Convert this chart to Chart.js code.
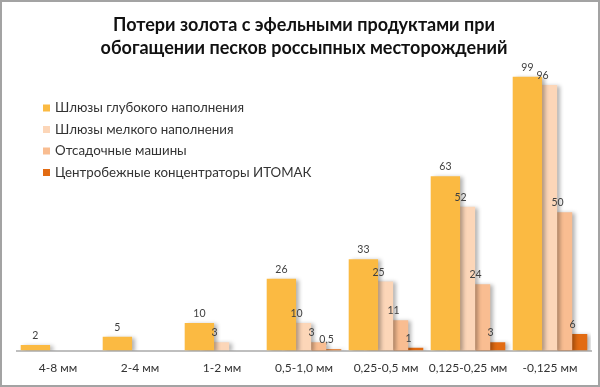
<!DOCTYPE html>
<html>
<head>
<meta charset="utf-8">
<script src="https://cdn.jsdelivr.net/npm/chart.js@4"></script>
<style>
  body { margin: 0; background: #fff; }
  .frame { width: 600px; height: 387px; box-sizing: border-box; border: 2px solid #a3a3a3; background: #fff; }
  .box { position: relative; width: 596px; height: 383px; }
</style>
</head>
<body>
<div class="frame"><div class="box"><canvas id="chart"></canvas></div></div>
<script>
// size classes along the x axis
const categories = ['4-8 мм', '2-4 мм', '1-2 мм', '0,5-1,0 мм', '0,25-0,5 мм', '0,125-0,25 мм', '-0,125 мм'];
const seriesNames = ['Шлюзы глубокого наполнения', 'Шлюзы мелкого наполнения', 'Отсадочные машины', 'Центробежные концентраторы ИТОМАК'];
const deepSluices = [2, 5, 10, 26, 33, 63, 99];
const shallowSluices = [null, null, 3, 10, 25, 52, 96];
const jigs = [null, null, null, 3, 11, 24, 50];
const itomak = [null, null, null, 0.5, 1, 3, 6];
const colors = ['#fbba42', '#fcd6b8', '#f9bd91', '#e26b12'];

const font = 'Lato, "Noto Sans", sans-serif';

// drop shadow behind every bar
const shadowPlugin = {
    id: 'barShadow',
    beforeDatasetDraw(chart) {
        const ctx = chart.ctx;
        ctx.save();
        ctx.shadowColor = 'rgba(0,0,0,0.3)';
        ctx.shadowBlur = 4;
        ctx.shadowOffsetX = 3;
        ctx.shadowOffsetY = 1;
    },
    afterDatasetDraw(chart) {
        chart.ctx.restore();
    }
};

// value labels over the bars
const valuePlugin = {
    id: 'values',
    afterDatasetsDraw(chart) {
        const ctx = chart.ctx;
        ctx.save();
        ctx.font = '10.5px ' + font;
        ctx.fillStyle = '#404040';
        ctx.textAlign = 'center';
        ctx.textBaseline = 'bottom';
        chart.data.datasets.forEach((ds, i) => {
            chart.getDatasetMeta(i).data.forEach((bar, j) => {
                const v = ds.data[j];
                if (v == null) return;
                ctx.fillText(String(v).replace('.', ','), bar.x, bar.y - 4);
            });
        });
        ctx.restore();
    }
};

// legend sitting inside the plot, top left
const legendPlugin = {
    id: 'insideLegend',
    afterDraw(chart) {
        const ctx = chart.ctx;
        ctx.save();
        ctx.font = '13.3px ' + font;
        ctx.textBaseline = 'middle';
        chart.data.datasets.forEach((ds, i) => {
            const y = 106 + i * 21.5;
            ctx.fillStyle = ds.backgroundColor;
            ctx.fillRect(41, y - 3.5, 7, 7);
            ctx.fillStyle = '#333';
            ctx.fillText(ds.label, 53, y);
        });
        ctx.restore();
    }
};

const datasets = [deepSluices, shallowSluices, jigs, itomak].map((d, i) => ({
    label: seriesNames[i],
    data: d,
    backgroundColor: colors[i],
    borderWidth: 0,
    categoryPercentage: 0.735,
    barPercentage: 1.95
}));

new Chart(document.getElementById('chart'), {
    type: 'bar',
    data: { labels: categories, datasets: datasets },
    plugins: [shadowPlugin, valuePlugin, legendPlugin],
    options: {
        responsive: true,
        maintainAspectRatio: false,
        animation: false,
        layout: { padding: { left: 15, right: 7, top: 0, bottom: 0 } },
        plugins: {
            legend: { display: false },
            tooltip: { enabled: false },
            title: {
                display: true,
                text: ['Потери золота с эфельными продуктами при', 'обогащении песков россыпных месторождений'],
                font: { family: font, size: 18, weight: 'bold', lineHeight: 1.25 },
                color: '#111',
                padding: { top: 12, bottom: 15 }
            }
        },
        scales: {
            x: {
                grid: { display: false, drawTicks: false },
                border: { display: true, color: '#bfbfbf', width: 2 },
                ticks: { color: '#333', font: { family: font, size: 12, lineHeight: 0.7 }, padding: 13, maxRotation: 0, minRotation: 0, autoSkip: false }
            },
            y: { display: false, min: 0, max: 100 }
        }
    }
});
</script>
</body>
</html>
